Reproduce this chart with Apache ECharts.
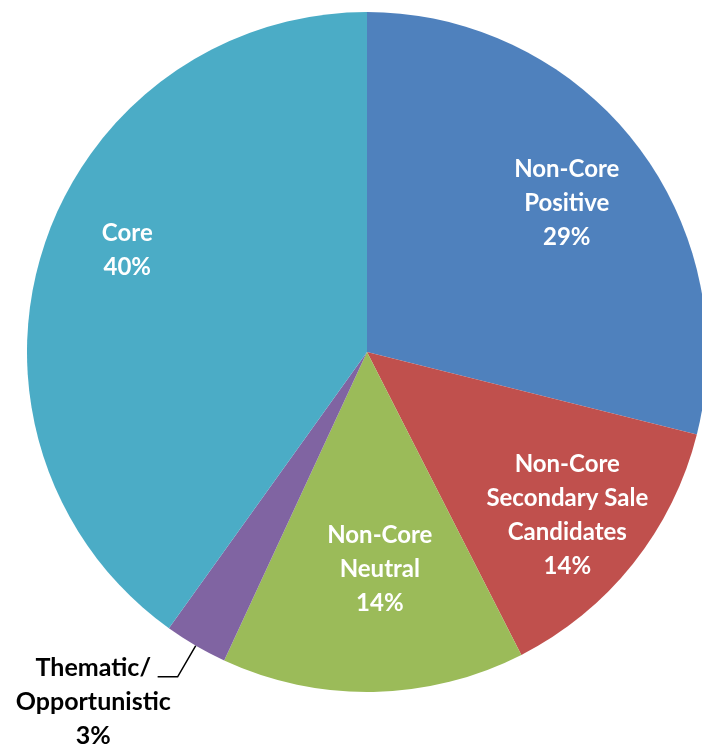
<!DOCTYPE html>
<html>
<head>
<meta charset="utf-8">
<script src="https://cdn.jsdelivr.net/npm/echarts@6/dist/echarts.min.js"></script>
<style>
  html, body { margin: 0; padding: 0; background: #fff; }
  #chart { width: 702px; height: 744px; }
</style>
</head>
<body>
<div id="chart"></div>
<script>
// 饼图数据
var categories = ['Non-Core\nPositive', 'Non-Core\nSecondary Sale\nCandidates', 'Non-Core\nNeutral', 'Thematic/\nOpportunistic', 'Core']
var values = [28.9, 13.6, 14.4, 3.0, 40.1]
var colors = ['#4F81BD', '#C0504D', '#9BBB59', '#8064A2', '#4BACC6']
var outsideIndex = 3
// 标签微调 [dx, dy]
var labelNudge = [[-2, 9], [0, 4], [8, -39], [12, 0], [4, -23]]

var chart = echarts.init(document.getElementById('chart'))
var fontFamily = 'Lato, "Open Sans", sans-serif'

function pctLabel (p) {
  return p.name + '\n' + Math.round(p.percent) + '%'
}

function outsideLabel (p) {
  var lines = pctLabel(p).split('\n')
  return '{pad| }\n' + lines.map(function (s) { return '{a|' + s + '}' }).join('\n')
}

function nudge (params) {
  var n = labelNudge[params.dataIndex]
  return { dx: n[0], dy: n[1] }
}

var mainData = categories.map(function (name, i) {
  var item = { name: name, value: values[i], itemStyle: { color: colors[i] } }
  if (i === outsideIndex) {
    item.label = {
      show: true,
      position: 'outside',
      color: '#000',
      align: 'right',
      formatter: outsideLabel,
      rich: {
        pad: { lineHeight: 50, fontSize: 10 },
        a: {
          width: 122,
          align: 'center',
          color: '#000',
          fontFamily: fontFamily,
          fontWeight: 'bold',
          fontSize: 25,
          lineHeight: 34
        }
      }
    }
    item.labelLine = { show: true, length: 36, length2: 20 }
  } else {
    item.label = { show: false }
    item.labelLine = { show: false }
  }
  return item
})

// 透明环，只用来放内部标签
var labelData = categories.map(function (name, i) {
  return {
    name: name,
    value: values[i],
    label: { show: i !== outsideIndex }
  }
})

var options = {
  animation: false,
  series: [{
    type: 'pie',
    center: [367, 352],
    radius: [0, 340],
    startAngle: 90,
    silent: true,
    label: {
      fontFamily: fontFamily,
      fontWeight: 'bold',
      fontSize: 24,
      lineHeight: 34
    },
    labelLine: {
      lineStyle: { color: '#000', width: 1.5 },
      smooth: false
    },
    labelLayout: nudge,
    data: mainData
  }, {
    type: 'pie',
    center: [367, 352],
    radius: [170, 336],
    startAngle: 90,
    silent: true,
    itemStyle: { color: 'rgba(0,0,0,0)' },
    label: {
      position: 'inside',
      formatter: pctLabel,
      color: '#fff',
      fontFamily: fontFamily,
      fontWeight: 'bold',
      fontSize: 24,
      lineHeight: 34,
      textBorderWidth: 0
    },
    labelLayout: nudge,
    labelLine: { show: false },
    data: labelData
  }]
}
chart.setOption(options)
window.addEventListener('resize', function () {
  chart.resize()
})
</script>
</body>
</html>
